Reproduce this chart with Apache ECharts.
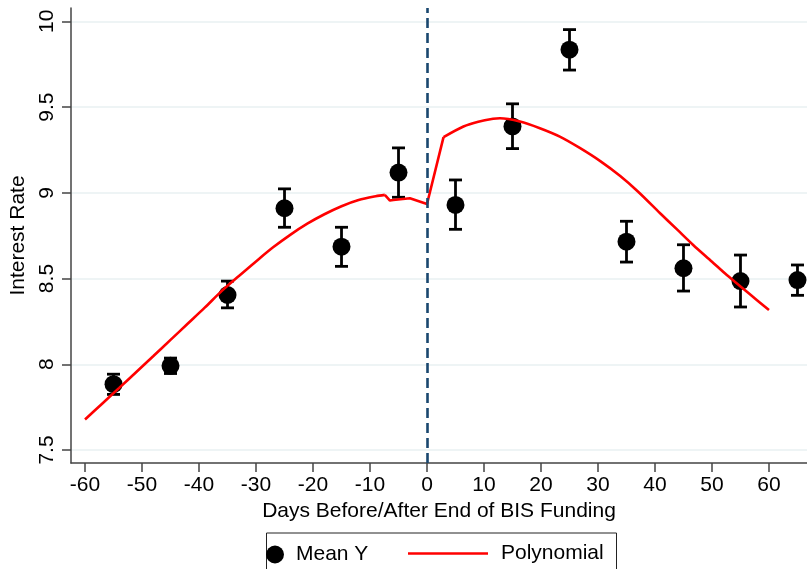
<!DOCTYPE html>
<html>
<head>
<meta charset="utf-8">
<script src="https://cdn.jsdelivr.net/npm/echarts@6/dist/echarts.min.js"></script>
<style>
  html, body { margin: 0; padding: 0; background: #fff; }
  #chart { width: 807px; height: 569px; }
</style>
</head>
<body>
<div id="chart"></div>
<script>
// Binned means with 95% intervals
const days   = [-55, -45, -35, -25, -15, -5, 5, 15, 25, 35, 45, 55, 65];
const meanY  = [7.884, 7.991, 8.404, 8.910, 8.686, 9.118, 8.929, 9.387, 9.835, 8.715, 8.560, 8.485, 8.491];
const ciLow  = [7.824, 7.946, 8.329, 8.799, 8.571, 8.974, 8.787, 9.258, 9.716, 8.596, 8.427, 8.334, 8.402];
const ciHigh = [7.942, 8.036, 8.485, 9.023, 8.799, 9.262, 9.075, 9.519, 9.952, 8.834, 8.697, 8.637, 8.579];

// Fitted polynomial: left branch, kink near the cutoff, right branch
const fitLeftDays  = [-60, -57, -54, -51, -48, -45, -42, -39, -36, -33, -30, -27, -24, -21, -18, -15, -12, -9, -7.4];
const fitLeftY     = [7.678, 7.770, 7.862, 7.955, 8.048, 8.142, 8.236, 8.330, 8.428, 8.515, 8.600, 8.682, 8.755, 8.820, 8.875, 8.922, 8.958, 8.980, 8.988];
const fitKinkDays  = [-7.4, -6.5, -5.9, -3, 0, 2.9];
const fitKinkY     = [8.988, 8.955, 8.958, 8.968, 8.935, 9.325];
const fitRightDays = [2.9, 6.4, 9, 11.6, 12.8, 16.3, 19.8, 23.3, 26.8, 30.4, 33.9, 37, 40.9, 44, 46.7, 50, 52.6, 55, 57.9, 60];
const fitRightY    = [9.325, 9.387, 9.415, 9.432, 9.435, 9.416, 9.377, 9.328, 9.262, 9.185, 9.098, 9.008, 8.881, 8.782, 8.696, 8.598, 8.520, 8.454, 8.374, 8.316];

const xTicks = [-60, -50, -40, -30, -20, -10, 0, 10, 20, 30, 40, 50, 60];
const yTicks = [7.5, 8, 8.5, 9, 9.5, 10];
const cutoff = 0;

const FONT = "Arial, 'Liberation Sans', sans-serif";
const axisColor = '#444';
const gridColor = '#e9f0f2';
const fitColor = '#ff0000';

const pairs = (xs, ys) => xs.map((x, i) => [x, ys[i]]);

function fitPiece(xs, ys, smooth, extra) {
  return Object.assign({
    name: 'Polynomial',
    type: 'line',
    data: pairs(xs, ys),
    symbol: 'none',
    showSymbol: false,
    smooth: smooth,
    lineStyle: { color: fitColor, width: 2.6 },
    itemStyle: { color: fitColor },
    z: 4
  }, extra || {});
}

const chart = echarts.init(document.getElementById('chart'), null, { renderer: 'canvas' });

chart.setOption({
  backgroundColor: '#fff',
  animation: false,
  textStyle: { fontFamily: FONT, color: '#000' },
  grid: { left: 71, top: 8, right: 0, bottom: 106, containLabel: false },
  xAxis: {
    type: 'value',
    min: -62.46,
    max: 66.67,
    name: 'Days Before/After End of BIS Funding',
    nameLocation: 'middle',
    nameGap: 36,
    nameTextStyle: { fontSize: 21, color: '#000', fontFamily: FONT },
    axisLine: { show: true, onZero: false, lineStyle: { color: axisColor, width: 1.5 } },
    axisTick: { show: true, length: 9, customValues: xTicks, lineStyle: { color: axisColor, width: 1.5 } },
    axisLabel: { customValues: xTicks, fontSize: 21, color: '#000', margin: 12, fontFamily: FONT },
    splitLine: { show: false }
  },
  yAxis: {
    type: 'value',
    min: 7.424,
    max: 10.078,
    name: 'Interest Rate',
    nameLocation: 'middle',
    nameGap: 36,
    nameTextStyle: { fontSize: 21, color: '#000', fontFamily: FONT },
    axisLine: { show: true, onZero: false, lineStyle: { color: axisColor, width: 1.5 } },
    axisTick: { show: true, length: 9, customValues: yTicks, lineStyle: { color: axisColor, width: 1.5 } },
    axisLabel: { customValues: yTicks, rotate: 90, fontSize: 21, color: '#000', margin: 13, fontFamily: FONT },
    splitLine: { show: true, lineStyle: { color: gridColor, width: 1.5 } }
  },
  legend: [
    {
      data: ['Mean Y'],
      left: 266, top: 544, padding: 0,
      itemWidth: 32, itemHeight: 18,
      icon: 'circle',
      selectedMode: false,
      itemStyle: { opacity: 1 },
      textStyle: { fontSize: 21, color: '#000', fontFamily: FONT }
    },
    {
      data: [{ name: 'Polynomial', icon: 'rect' }],
      left: 408, top: 543, padding: 0,
      itemWidth: 80, itemHeight: 2.7,
      selectedMode: false,
      textStyle: { fontSize: 21, color: '#000', fontFamily: FONT, padding: [0, 0, 0, 8] }
    }
  ],
  graphic: [
    {
      type: 'rect',
      shape: { x: 266.5, y: 533, width: 350, height: 60 },
      style: { fill: 'none', stroke: '#222', lineWidth: 1 },
      silent: true
    }
  ],
  series: [
    {
      name: 'CI',
      type: 'custom',
      data: days.map((d, i) => [d, ciLow[i], ciHigh[i]]),
      encode: { x: 0, y: [1, 2] },
      z: 2,
      renderItem: function (params, api) {
        const x = api.value(0);
        const top = api.coord([x, api.value(2)]);
        const bot = api.coord([x, api.value(1)]);
        const hw = 6.5;
        const st = { stroke: '#000', lineWidth: 2.8 };
        return {
          type: 'group',
          children: [
            { type: 'line', shape: { x1: top[0], y1: top[1], x2: bot[0], y2: bot[1] }, style: st },
            { type: 'line', shape: { x1: top[0] - hw, y1: top[1], x2: top[0] + hw, y2: top[1] }, style: st },
            { type: 'line', shape: { x1: bot[0] - hw, y1: bot[1], x2: bot[0] + hw, y2: bot[1] }, style: st }
          ]
        };
      }
    },
    {
      name: 'Mean Y',
      type: 'scatter',
      data: pairs(days, meanY),
      symbol: 'circle',
      symbolSize: 18,
      itemStyle: { color: '#000', opacity: 1 },
      z: 3
    },
    fitPiece(fitLeftDays, fitLeftY, 0.3),
    fitPiece(fitKinkDays, fitKinkY, false, {
      markLine: {
        silent: true,
        symbol: ['none', 'none'],
        label: { show: false },
        lineStyle: { color: '#1a476f', width: 2.6, type: [10, 5] },
        data: [{ xAxis: cutoff }]
      }
    }),
    fitPiece(fitRightDays, fitRightY, 0.3)
  ]
});
</script>
</body>
</html>
